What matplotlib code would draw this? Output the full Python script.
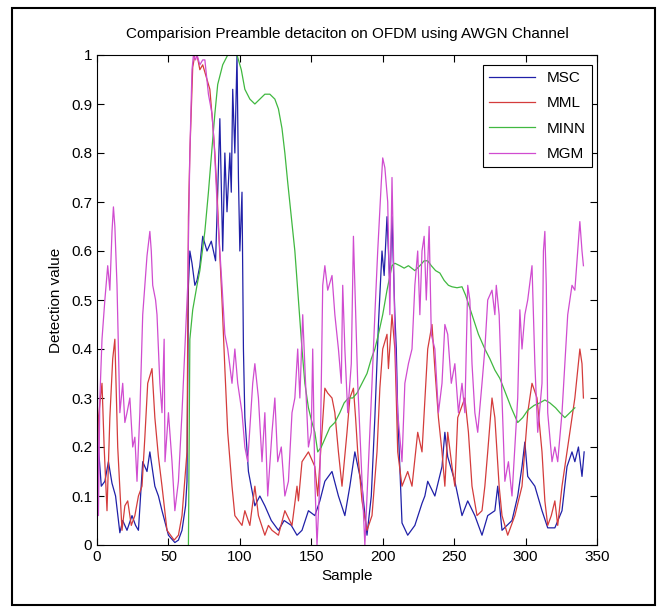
import matplotlib
matplotlib.use("Agg")
import matplotlib.pyplot as plt
from matplotlib.patches import Rectangle

# sample positions / detection values
msc_x = [0, 1, 3, 5.5, 8, 10.5, 13, 16, 18, 21, 24.5, 27, 29, 32, 35, 37, 40.5, 43, 45.5, 50,
         54.5, 57, 59.5, 62, 63, 64, 65, 66.5, 68.5, 70, 72, 74, 77, 80, 83, 84.5, 86, 88, 89.5,
         91, 93, 94, 95, 96.5, 98, 99, 100, 101.5, 102.5, 103.5, 106, 110.5, 114, 117.5, 122, 127,
         131, 136, 140, 143.5, 148, 152.5, 156, 159.5, 164.5, 169, 173.5, 177, 180.5, 185.5, 189,
         192, 194.5, 197, 199.5, 201, 203, 205, 206.5, 208.5, 209.5, 210.5, 213.5, 217.5, 222.5,
         227.5, 229.5, 231.5, 236.5, 241.5, 243.5, 245.5, 250.5, 255.5, 259.5, 264.5, 269.5,
         273.5, 278.5, 280.5, 283.5, 290.5, 294.5, 297.5, 299.5, 301.5, 306.5, 311.5, 315.5,
         320.5, 325.5, 329, 332.5, 334.5, 337, 339.5, 341]
msc_y = [0.15, 0.2, 0.12, 0.13, 0.17, 0.126, 0.1, 0.025, 0.05, 0.03, 0.06, 0.04, 0.03, 0.17, 0.15,
         0.19, 0.12, 0.1, 0.07, 0.02, 0.005, 0.01, 0.03, 0.08, 0.13, 0.53, 0.6, 0.575, 0.53, 0.54,
         0.57, 0.63, 0.6, 0.62, 0.58, 0.72, 0.87, 0.6, 0.8, 0.68, 0.8, 0.72, 0.93, 0.8, 1.0, 0.75,
         0.6, 0.72, 0.4, 0.26, 0.15, 0.08, 0.1, 0.08, 0.05, 0.03, 0.05, 0.04, 0.02, 0.03, 0.07,
         0.06, 0.09, 0.13, 0.15, 0.1, 0.06, 0.12, 0.19, 0.12, 0.02, 0.1, 0.26, 0.45, 0.6, 0.55,
         0.67, 0.53, 0.67, 0.47, 0.4, 0.27, 0.045, 0.02, 0.04, 0.085, 0.1, 0.13, 0.1, 0.16, 0.23,
         0.18, 0.13, 0.06, 0.09, 0.06, 0.02, 0.06, 0.07, 0.12, 0.03, 0.05, 0.1, 0.16, 0.21, 0.14,
         0.12, 0.07, 0.035, 0.035, 0.07, 0.16, 0.19, 0.17, 0.2, 0.14, 0.19]

mml_x = [0, 1, 3.5, 5, 7, 9, 11, 12.5, 14.5, 17.5, 19.5, 21.5, 24, 26.5, 29, 31.5, 33.5, 35.5,
         38.5, 40.5, 43, 45.5, 49, 54, 57, 59.5, 63, 64, 65, 67, 68.5, 70, 72, 74, 77, 79, 81,
         82.5, 84, 86, 87.5, 89.5, 91.5, 94.5, 96.5, 99, 101.5, 103.5, 107, 110.5, 113, 117.5,
         120, 122.5, 127, 131.5, 136.5, 140, 141, 143.5, 148, 152.5, 154.5, 157.5, 159.5, 161.5,
         164.5, 166.5, 169, 171.5, 175, 177, 179.5, 181, 182.5, 185.5, 189, 192.5, 196, 198, 200,
         203, 204, 206.5, 208.5, 209.5, 210.5, 213.5, 217.5, 220.5, 224.5, 227.5, 231.5, 234.5,
         236.5, 239, 241.5, 243.5, 245.5, 248.5, 250.5, 252.5, 257.5, 260, 262.5, 266, 269.5,
         271.5, 273.5, 276.5, 278.5, 280, 281.5, 283.5, 287.5, 292.5, 297.5, 301.5, 304.5, 308,
         311.5, 313.5, 315.5, 318, 320.5, 322.5, 325.5, 329, 331, 334.5, 338, 339.5, 340.5]
mml_y = [0.1, 0.26, 0.33, 0.2, 0.07, 0.26, 0.38, 0.42, 0.2, 0.03, 0.08, 0.09, 0.04, 0.06, 0.1,
         0.12, 0.22, 0.33, 0.36, 0.26, 0.18, 0.12, 0.03, 0.01, 0.02, 0.06, 0.19, 0.67, 0.8, 0.975,
         1.0, 1.0, 0.97, 0.98, 0.95, 0.93, 0.86, 0.8, 0.72, 0.59, 0.5, 0.36, 0.23, 0.12, 0.06,
         0.05, 0.04, 0.07, 0.04, 0.12, 0.06, 0.02, 0.04, 0.03, 0.02, 0.07, 0.04, 0.12, 0.09, 0.17,
         0.19, 0.16, 0.1, 0.23, 0.32, 0.31, 0.3, 0.27, 0.19, 0.12, 0.23, 0.3, 0.32, 0.26, 0.19,
         0.09, 0.03, 0.06, 0.19, 0.32, 0.4, 0.43, 0.36, 0.47, 0.4, 0.3, 0.19, 0.12, 0.15, 0.12,
         0.23, 0.19, 0.4, 0.45, 0.36, 0.26, 0.19, 0.12, 0.23, 0.16, 0.12, 0.26, 0.3, 0.23, 0.12,
         0.06, 0.07, 0.12, 0.19, 0.3, 0.26, 0.19, 0.12, 0.06, 0.02, 0.06, 0.12, 0.27, 0.33, 0.3,
         0.19, 0.09, 0.04, 0.06, 0.09, 0.04, 0.12, 0.19, 0.23, 0.3, 0.4, 0.37, 0.3]

minn_x = [64, 65, 67, 70, 72, 75.5, 78, 80.5, 82.5, 84.5, 88, 91.5, 95, 98, 101, 103.5, 107,
          110.5, 114, 117.5, 121, 124.5, 127, 129.5, 131.5, 133.5, 136, 138.5, 141, 143.5, 145.5,
          148, 150.5, 152.5, 154.5, 157, 160, 163, 166.5, 170, 173, 176, 179, 182, 185.5, 189,
          192, 194.5, 197, 200, 203, 206.5, 208.5, 212, 215, 218, 222.5, 226, 229, 231.5, 234,
          237, 240, 243, 246, 248.5, 252, 255.5, 258, 262.5, 267, 271.5, 275, 278.5, 282, 286,
          290, 294.5, 298, 301.5, 306, 310, 313.5, 317, 321, 324, 327.5, 331, 334.5]
minn_y = [0, 0.42, 0.48, 0.53, 0.56, 0.64, 0.72, 0.81, 0.88, 0.94, 0.98, 1.0, 1.0, 1.0, 0.97,
          0.93, 0.91, 0.9, 0.91, 0.92, 0.92, 0.91, 0.89, 0.85, 0.8, 0.74, 0.67, 0.6, 0.5, 0.4,
          0.33, 0.28, 0.25, 0.23, 0.19, 0.2, 0.22, 0.24, 0.25, 0.27, 0.29, 0.3, 0.3, 0.31, 0.33,
          0.35, 0.38, 0.4, 0.43, 0.47, 0.52, 0.57, 0.575, 0.57, 0.565, 0.57, 0.56, 0.57, 0.58,
          0.58, 0.57, 0.56, 0.555, 0.54, 0.53, 0.527, 0.525, 0.527, 0.51, 0.47, 0.43, 0.4, 0.38,
          0.357, 0.34, 0.31, 0.28, 0.25, 0.26, 0.275, 0.285, 0.29, 0.296, 0.29, 0.28, 0.27, 0.26,
          0.27, 0.28]

mgm_x = [0, 1, 2, 3.5, 5.5, 7.5, 9, 10.5, 11.5, 12.5, 14, 15, 16, 18, 19.5, 21, 23, 25, 26.5,
         28, 30, 32, 35, 37, 38, 39, 41, 42, 44, 45.5, 47, 47.6, 50, 52.5, 54.5, 57, 59.5, 61.5,
         63.5, 65, 66.5, 67.5, 69, 70, 72, 74, 75.5, 78, 80.5, 82, 84.5, 86, 87.5, 89.5, 91.5,
         94.5, 96.5, 98.5, 101.5, 103.5, 105.5, 109, 110.5, 113, 115.5, 117.5, 119.5, 122.5,
         124.5, 126.5, 129, 131.5, 134, 136.5, 138.5, 140.5, 142, 144, 146, 148, 150, 151, 152.5,
         154, 156, 158, 159.5, 161.5, 164.5, 166.5, 169, 171, 172, 173.5, 175.5, 178, 179.5,
         180.5, 182.5, 185.5, 187.5, 189.5, 192.5, 194.5, 196.5, 199, 200, 201.5, 203.5, 205,
         206.5, 207.5, 208.5, 210.5, 213.5, 215.5, 218, 220.5, 222.5, 224.5, 226, 227.5, 229,
         230.5, 232.5, 234, 236.5, 239, 241.5, 243.5, 245.5, 248, 250.5, 253, 255.5, 257.5,
         259.5, 261, 262.5, 264.5, 266.5, 269.5, 271.5, 273.5, 276.5, 278.5, 279.5, 281.5, 283.5,
         285.5, 288, 290.5, 292.5, 294.5, 296, 297.5, 299.5, 301.5, 304.5, 305.5, 306.5, 308.5,
         311.5, 312.5, 313.5, 314.5, 315.5, 318.5, 320.5, 322.5, 325.5, 327.5, 329.5, 332.5,
         334.5, 336.5, 338, 339.5, 340.5]
mgm_y = [0.45, 0.06, 0.3, 0.42, 0.5, 0.57, 0.52, 0.64, 0.69, 0.65, 0.53, 0.4, 0.27, 0.33, 0.25,
         0.27, 0.3, 0.2, 0.22, 0.13, 0.27, 0.47, 0.59, 0.64, 0.6, 0.53, 0.5, 0.47, 0.33, 0.27,
         0.42, 0.17, 0.27, 0.17, 0.07, 0.13, 0.27, 0.4, 0.53, 0.8, 0.97, 1.0, 0.99, 1.0, 0.98,
         0.99, 0.99, 0.92, 0.88, 0.82, 0.67, 0.6, 0.53, 0.43, 0.4, 0.33, 0.4, 0.33, 0.27, 0.2,
         0.17, 0.33, 0.37, 0.3, 0.17, 0.27, 0.1, 0.23, 0.3, 0.17, 0.2, 0.1, 0.13, 0.27, 0.3, 0.4,
         0.3, 0.47, 0.33, 0.2, 0.23, 0.4, 0.13, 0.0, 0.13, 0.53, 0.57, 0.52, 0.55, 0.47, 0.4,
         0.33, 0.53, 0.4, 0.27, 0.37, 0.63, 0.53, 0.33, 0.13, 0.0, 0.13, 0.33, 0.47, 0.6, 0.74,
         0.79, 0.77, 0.7, 0.47, 0.75, 0.6, 0.43, 0.27, 0.17, 0.33, 0.37, 0.4, 0.53, 0.6, 0.47,
         0.6, 0.63, 0.5, 0.65, 0.43, 0.4, 0.27, 0.33, 0.45, 0.43, 0.33, 0.37, 0.27, 0.33, 0.27,
         0.53, 0.5, 0.37, 0.27, 0.23, 0.33, 0.4, 0.5, 0.52, 0.47, 0.53, 0.47, 0.3, 0.13, 0.17,
         0.1, 0.2, 0.3, 0.48, 0.4, 0.47, 0.5, 0.57, 0.47, 0.37, 0.23, 0.33, 0.6, 0.64, 0.53,
         0.27, 0.17, 0.2, 0.17, 0.27, 0.37, 0.47, 0.53, 0.52, 0.6, 0.66, 0.6, 0.57]

labels = ["MSC", "MML", "MINN", "MGM"]
colors = ["#2020a8", "#d43c3c", "#40b840", "#d04cd0"]

font = ["Liberation Sans Narrow", "Liberation Sans", "DejaVu Sans"]
plt.rcParams["font.family"] = font

fig = plt.figure(figsize=(6.65, 6.09), dpi=100)
ax = fig.add_axes([97 / 665, 64 / 609, 500 / 665, 490 / 609])

series = [(msc_x, msc_y), (mml_x, mml_y), (minn_x, minn_y), (mgm_x, mgm_y)]
for (xs, ys), lab, col in zip(series, labels, colors):
    ax.plot(xs, ys, color=col, lw=0.9, label=lab)

ax.set_xlim(0, 350)
ax.set_ylim(0, 1)
ax.set_xticks(range(0, 351, 50))
ax.set_yticks([i / 10 for i in range(11)])
ax.set_yticklabels(["0", "0.1", "0.2", "0.3", "0.4", "0.5", "0.6", "0.7", "0.8", "0.9", "1"])
ax.tick_params(direction="in", top=True, right=True, length=5, labelsize=11, width=0.8)
for sp in ax.spines.values():
    sp.set_linewidth(0.8)

ax.set_title("Comparision Preamble detaciton on OFDM using AWGN Channel", fontsize=11, pad=12)
ax.set_xlabel("Sample", fontsize=11, labelpad=4)
ax.set_ylabel("Detection value", fontsize=11, labelpad=6)

leg = ax.legend(loc="upper right", bbox_to_anchor=(0.99, 0.98), fontsize=11,
                frameon=True, fancybox=False, framealpha=1, edgecolor="black",
                handlelength=3.0, labelspacing=0.75, borderaxespad=0)
leg.get_frame().set_linewidth(0.8)

# outer frame around the whole picture
fig.patches.append(Rectangle((12 / 665, 4 / 609), 643 / 665, 597 / 609,
                             transform=fig.transFigure, fill=False,
                             edgecolor="black", lw=1.5))

fig.savefig("out.png", dpi=100)
